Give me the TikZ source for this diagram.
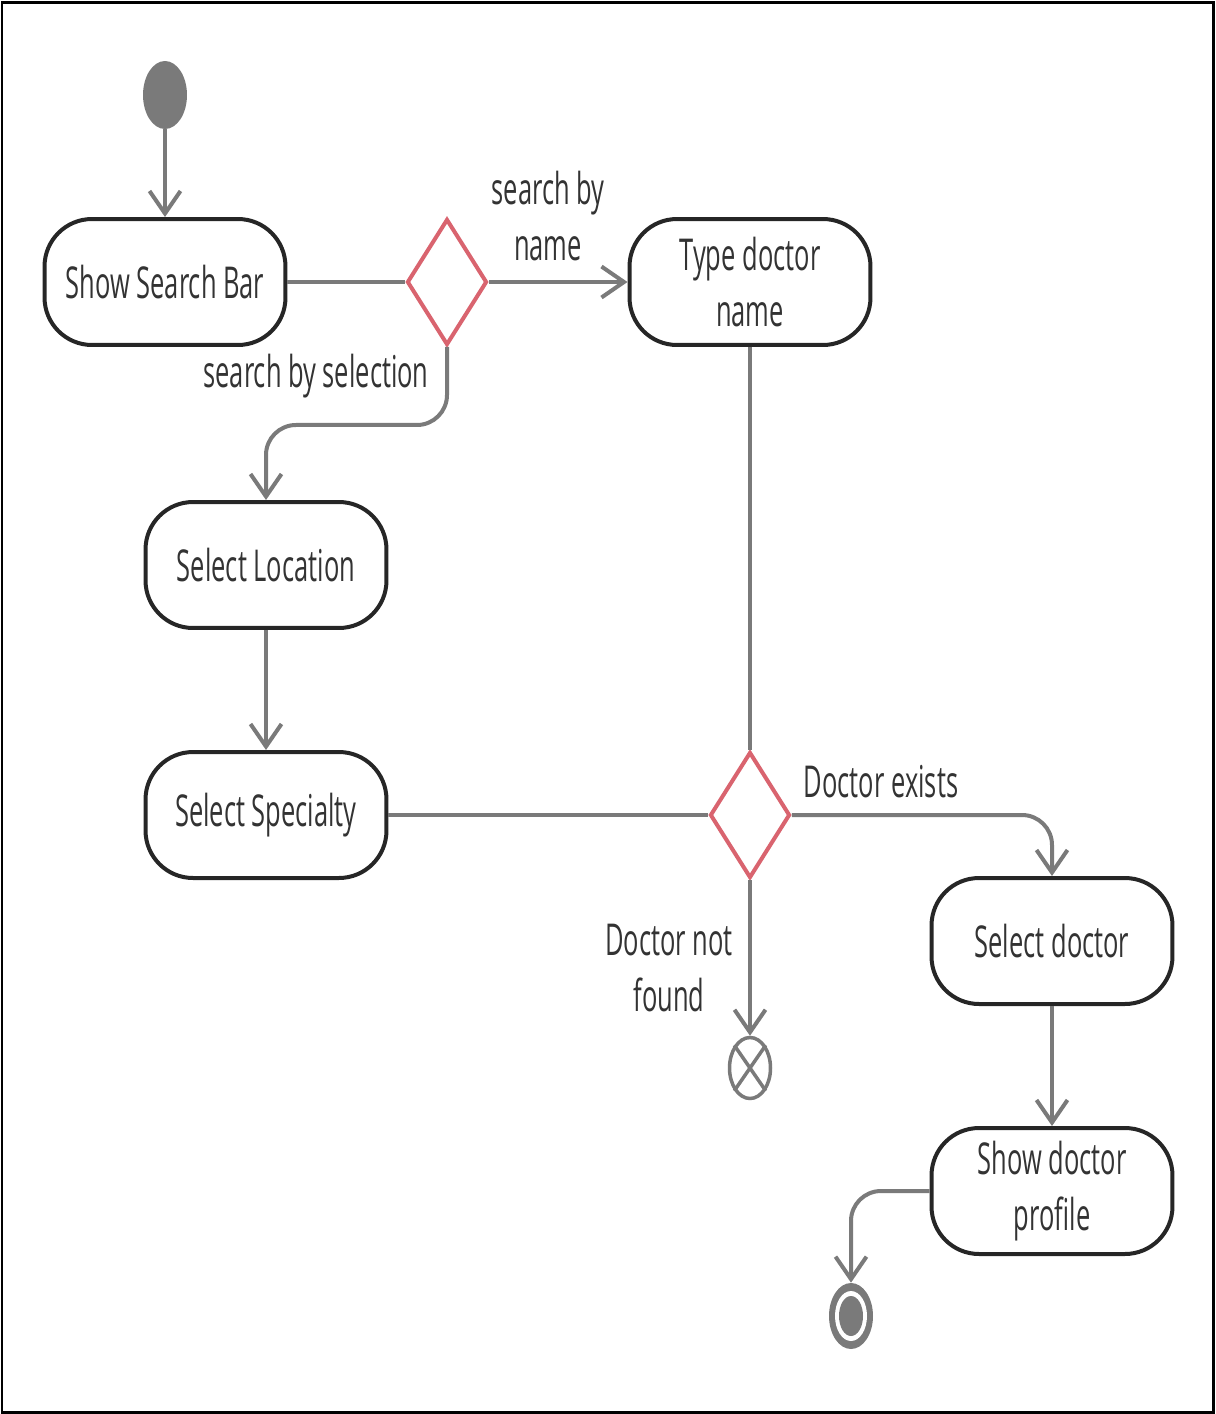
\documentclass[tikz,border=0pt]{standalone}
\usepackage{fontspec}
\setmainfont{Open Sans}[FakeStretch=0.58]
\usetikzlibrary{shapes.geometric,arrows.meta}
\definecolor{flowgray}{HTML}{7A7A7A}
\definecolor{guardred}{HTML}{D9646F}
\definecolor{ink}{HTML}{333333}
\tikzset{
	act/.style={draw=black!85, line width=0.08cm, rounded corners=0.95cm, minimum width=4.82cm, minimum height=2.52cm, align=center, text=ink, font=\fontsize{25}{32}\selectfont},
	guard/.style={diamond, draw=guardred, line width=0.08cm, inner sep=0pt, minimum width=1.6cm, minimum height=2.52cm},
	lbl/.style={align=center, text=ink, font=\fontsize{25}{32}\selectfont},
	flow/.style={draw=flowgray, line width=0.08cm, rounded corners=0.6cm},
	tip/.style={-{Straight Barb[length=0.45cm, width=0.62cm]}}
}

\begin{document}
\begin{tikzpicture}[x=0.02cm, y=-0.02cm]
	\useasboundingbox (0,0) rectangle (1215,1414);
	\draw[line width=0.06cm] (2,2) rectangle (1213,1412);

	\node[ellipse, fill=flowgray, inner sep=0pt, minimum width=0.88cm, minimum height=1.36cm] (Start) at (165,95) {};
	\node[act] (Bar) at (165,282) {Show Search Bar};
	\node[guard] (D1) at (447,282) {};
	\node[act] (Name) at (750,282) {Type doctor\\name};
	\node[act] (Loc) at (266,565) {Select Location};
	\node[act] (Spec) at (266,815) {Select Specialty};
	\node[guard] (D2) at (750,815) {};
	\node[act] (Sel) at (1052,941) {Select doctor};
	\node[act] (Prof) at (1052,1191) {Show doctor\\profile};
	\node[ellipse, draw=flowgray, line width=0.07cm, inner sep=0pt, minimum width=0.82cm, minimum height=1.22cm] (Stop) at (750,1068) {};
	\node[ellipse, fill=flowgray, inner sep=0pt, minimum width=0.88cm, minimum height=1.32cm] (End) at (851,1316) {};
	\fill[white] (End.center) ellipse [x radius=0.32cm, y radius=0.5cm];
	\fill[flowgray] (End.center) ellipse [x radius=0.24cm, y radius=0.4cm];

	\draw[flowgray, line width=0.07cm] (Stop.north west) -- (Stop.south east);
	\draw[flowgray, line width=0.07cm] (Stop.north east) -- (Stop.south west);

	\draw[flow, tip] (Start) -- (Bar);
	\draw[flow] (Bar) -- (D1);
	\draw[flow, tip] (D1) -- (Name);
	\draw[flow, tip] (D1.south) -- ++(0,78) -| (Loc.north);
	\draw[flow, tip] (Loc) -- (Spec);
	\draw[flow] (Spec) -- (D2);
	\draw[flow] (Name) -- (D2);
	\draw[flow, tip] (D2.east) -| (Sel.north);
	\draw[flow, tip] (D2) -- (Stop);
	\draw[flow, tip] (Sel) -- (Prof);
	\draw[flow, tip] (Prof.west) -| (End.north);

	\node[lbl] (ByName) at (548,216) {search by\\name};
	\node[lbl] (BySel) at (316,376) {search by selection};
	\node[lbl] (Exists) at (881,782) {Doctor exists};
	\node[lbl] (NotFound) at (669,968) {Doctor not\\found};
\end{tikzpicture}
\end{document}
